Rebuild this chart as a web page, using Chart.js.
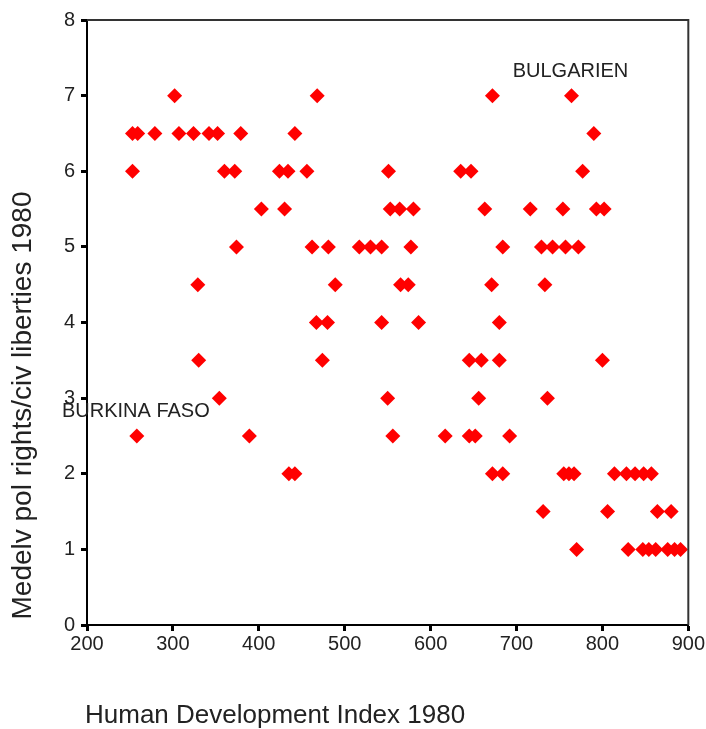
<!DOCTYPE html>
<html>
<head>
<meta charset="utf-8">
<script src="https://cdn.jsdelivr.net/npm/chart.js@4.4.1/dist/chart.umd.min.js"></script>
<style>
  html, body { margin: 0; padding: 0; background: #fff; }
  #wrap { position: relative; width: 706px; height: 729px; }
</style>
</head>
<body>
<div id="wrap"><canvas id="scatter"></canvas></div>
<script>
// HDI 1980 vs average political rights / civil liberties 1980
// each row: one rights level, hdi values
const rightsLevels = [7, 6.5, 6, 5.5, 5, 4.5, 4, 3.5, 3, 2.5, 2, 1.5, 1];
const hdiByLevel = [
  [302, 468, 672, 764],
  [253, 259, 279, 307, 324, 342, 352, 379, 442, 790],
  [253, 360, 372, 424, 434, 456, 551, 635, 647, 777],
  [403, 430, 553, 564, 580, 663, 716, 754, 793, 802],
  [374, 462, 481, 517, 530, 543, 577, 684, 729, 742, 757, 772],
  [329, 489, 565, 574, 671, 733],
  [467, 480, 543, 586, 680],
  [330, 474, 645, 659, 680, 800],
  [354, 550, 656, 736],
  [258, 389, 556, 617, 645, 652, 692],
  [435, 442, 672, 684, 755, 761, 767, 814, 828, 838, 848, 857],
  [731, 806, 864, 880],
  [770, 830, 847, 854, 862, 876, 884, 891]
];

const labelNames = ['BULGARIEN', 'BURKINA FASO'];
const labelHdi = [764, 258];
const labelRights = [7, 2.5];

const xTicks = [200, 300, 400, 500, 600, 700, 800, 900];
const yTicks = [0, 1, 2, 3, 4, 5, 6, 7, 8];

const xTitle = 'Human Development Index 1980';
const yTitle = 'Medelv pol rights/civ liberties 1980';

const points = [];
rightsLevels.forEach((lvl, i) => {
  hdiByLevel[i].forEach(h => points.push({ x: h, y: lvl }));
});

const FONT = '"Liberation Sans", Arial, sans-serif';

// frame on top/right, axis titles and case labels
const extras = {
  id: 'extras',
  afterDraw(chart) {
    const { ctx, chartArea: a, scales } = chart;
    ctx.save();
    ctx.strokeStyle = '#333';
    ctx.lineWidth = 2;
    ctx.beginPath();
    ctx.moveTo(a.left, a.top);
    ctx.lineTo(a.right, a.top);
    ctx.lineTo(a.right, a.bottom);
    ctx.stroke();

    ctx.fillStyle = '#222';
    ctx.textAlign = 'center';
    ctx.textBaseline = 'middle';
    ctx.font = '20px ' + FONT;
    labelNames.forEach((name, i) => {
      const px = scales.x.getPixelForValue(labelHdi[i]);
      const py = scales.y.getPixelForValue(labelRights[i]);
      ctx.fillText(name, px - 1, py - 24);
    });

    ctx.font = '26px ' + FONT;
    ctx.textAlign = 'left';
    ctx.fillText(xTitle, a.left - 2, a.bottom + 91);

    ctx.translate(a.left - 64, (a.top + a.bottom) / 2 + 83);
    ctx.rotate(-Math.PI / 2);
    ctx.textAlign = 'center';
    ctx.font = '28px ' + FONT;
    ctx.fillText(yTitle, 0, 0);
    ctx.restore();
  }
};

new Chart(document.getElementById('scatter'), {
  type: 'scatter',
  data: {
    datasets: [{
      data: points,
      pointStyle: 'rectRot',
      pointRadius: 7.5,
      pointHoverRadius: 7.5,
      backgroundColor: '#ff0000',
      borderColor: '#ff0000',
      borderWidth: 0
    }]
  },
  options: {
    responsive: true,
    maintainAspectRatio: false,
    animation: false,
    layout: { padding: { left: 0, top: 20, right: 15, bottom: 0 } },
    plugins: {
      legend: { display: false },
      tooltip: { enabled: false }
    },
    scales: {
      x: {
        type: 'linear',
        min: 200,
        max: 900,
        afterBuildTicks: s => { s.ticks = xTicks.map(v => ({ value: v })); },
        afterFit: s => { s.height = 104; },
        grid: { display: true, drawOnChartArea: false, drawTicks: true, tickLength: 6, tickWidth: 3, tickColor: '#000' },
        border: { display: true, color: '#000', width: 2 },
        ticks: { color: '#222', padding: 1, maxRotation: 0, font: { size: 20, family: FONT } }
      },
      y: {
        type: 'linear',
        min: 0,
        max: 8,
        afterBuildTicks: s => { s.ticks = yTicks.map(v => ({ value: v })); },
        afterFit: s => { s.width = 87; },
        grid: { display: true, drawOnChartArea: false, drawTicks: true, tickLength: 6, tickWidth: 3, tickColor: '#000' },
        border: { display: true, color: '#000', width: 2 },
        ticks: { color: '#222', padding: 6, font: { size: 20, family: FONT } }
      }
    }
  },
  plugins: [extras]
});
</script>
</body>
</html>
